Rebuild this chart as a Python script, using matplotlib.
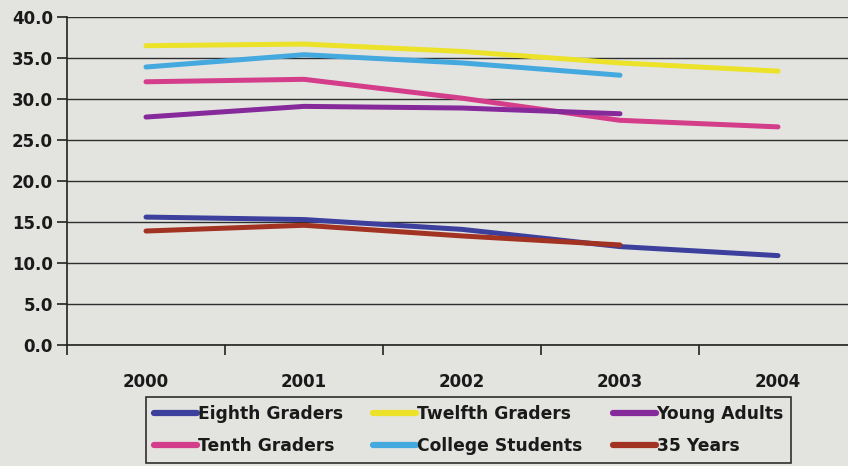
import matplotlib.pyplot as plt

# Survey results by year for each group
years = ["2000", "2001", "2002", "2003", "2004"]
eighth = [15.6, 15.3, 14.1, 12.0, 10.9]
tenth = [32.1, 32.4, 30.1, 27.4, 26.6]
twelfth = [36.5, 36.7, 35.8, 34.4, 33.4]
college = [33.9, 35.4, 34.4, 32.9]
young_adults = [27.8, 29.1, 28.9, 28.2]
age_35 = [13.9, 14.6, 13.3, 12.2]

series = [
    ("Eighth Graders", eighth, "#3c3f9c"),
    ("Tenth Graders", tenth, "#d43d8a"),
    ("Twelfth Graders", twelfth, "#ece22a"),
    ("College Students", college, "#44a9de"),
    ("Young Adults", young_adults, "#86299a"),
    ("35 Years", age_35, "#a23222"),
]

bg = "#e3e4e0"
plt.rcParams["font.family"] = "DejaVu Sans"
plt.rcParams["font.weight"] = "bold"

fig = plt.figure(figsize=(8.48, 4.66), dpi=100, facecolor=bg)
ax = fig.add_axes([67 / 848, 121 / 466, 790 / 848, 328 / 466])
ax.set_facecolor(bg)

handles = []
for name, vals, color in series:
    (h,) = ax.plot(range(len(vals)), vals, color=color, lw=3.6,
                   solid_capstyle="round", label=name, zorder=3)
    handles.append(h)

ax.set_xlim(-0.5, 4.5)
ax.set_ylim(0, 40)

# category labels centred, tick marks between categories
ax.set_xticks([-0.5, 0.5, 1.5, 2.5, 3.5])
ax.set_xticklabels([])
ax.tick_params(axis="x", which="major", length=7, width=1.2, color="#222222")
ax.set_xticks(range(5), minor=True)
ax.set_xticklabels(years, minor=True, fontsize=12, fontweight="bold")
ax.tick_params(axis="x", which="minor", length=0, pad=20)

ax.set_yticks(range(0, 41, 5))
ax.set_yticklabels([f"{v:.1f}" for v in range(0, 41, 5)],
                   fontsize=12, fontweight="bold")
ax.tick_params(axis="y", length=7, width=1.2, color="#222222", pad=3)

ax.grid(axis="y", color="#2e2e2e", lw=1.0)
ax.set_axisbelow(True)
for s in ["top", "right"]:
    ax.spines[s].set_visible(False)
for s in ["left", "bottom"]:
    ax.spines[s].set_color("#222222")
    ax.spines[s].set_linewidth(1.2)

leg = fig.legend(handles, [s[0] for s in series],
                 loc="center", bbox_to_anchor=(0.553, 0.077), ncol=3,
                 fontsize=12.3, frameon=True, fancybox=False,
                 handlelength=2.5, handletextpad=0.05, columnspacing=1.8,
                 labelspacing=0.85, borderpad=0.45)
leg.get_frame().set_edgecolor("black")
leg.get_frame().set_linewidth(1.2)
leg.get_frame().set_facecolor(bg)
for t in leg.get_texts():
    t.set_fontweight("bold")
    t.set_color("#1a1a1a")
for ln in leg.get_lines():
    ln.set_linewidth(4.5)

for lbl in ax.get_xticklabels(minor=True) + ax.get_yticklabels():
    lbl.set_color("#1a1a1a")

fig.savefig("out.png", dpi=100, facecolor=bg)
